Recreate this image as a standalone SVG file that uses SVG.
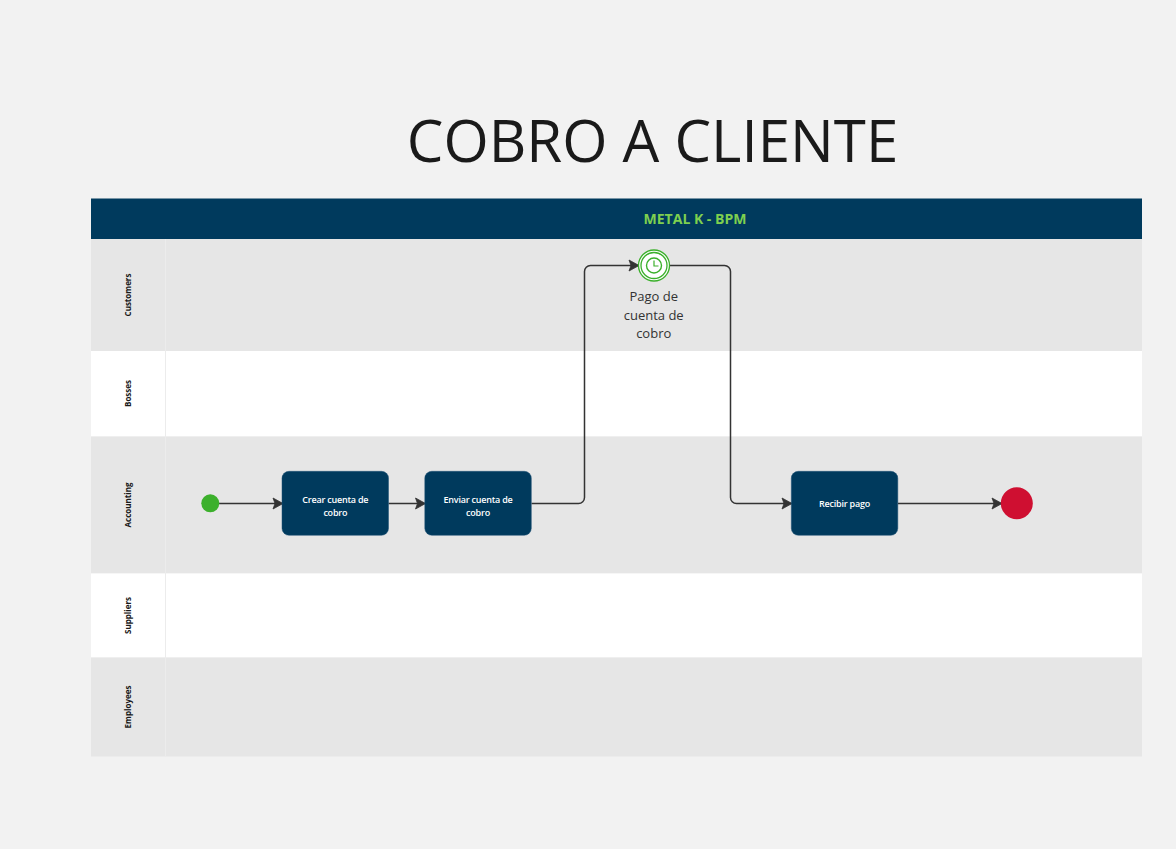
<svg xmlns="http://www.w3.org/2000/svg" width="1176" height="849" viewBox="0 0 1176 849">
<style>
text{font-family:"Open Sans","Noto Sans","Liberation Sans",sans-serif}
.lane{fill:#e6e6e6}.white{fill:#fff}
.div{stroke:#ececec;stroke-width:1;fill:none}
.lbl{font-size:8px;font-weight:700;fill:#1a1a1a;text-anchor:middle}
.task{fill:#003a5d;stroke:#1f5277;stroke-width:.5}
.tt{font-size:9px;font-weight:600;fill:#fff;text-anchor:middle;letter-spacing:-.22px}
.conn{fill:none;stroke:#333;stroke-width:1.5}
.cap{font-size:13px;fill:#333;text-anchor:middle}
</style>
<defs><marker id="arr" markerUnits="userSpaceOnUse" markerWidth="14" markerHeight="14" refX="11" refY="7" orient="auto"><path d="M1 1.500L11 7L1 12.500L3 7Z" fill="#333" stroke="#333" stroke-width=".8" stroke-linejoin="round"/></marker></defs>
<rect width="1176" height="849" fill="#f2f2f2"/>
<text x="652.500" y="162" font-size="58.200" fill="#1a1a1a" text-anchor="middle">COBRO A CLIENTE</text>
<g id="pool">
<rect x="91" y="198.500" width="1051" height="40.500" fill="#003a5d"/>
<text x="695" y="224" font-size="14px" font-weight="700" fill="#7ed04f" text-anchor="middle">METAL K - BPM</text>
</g>
<g id="lane-customers"><rect class="lane" x="91" y="239" width="1051" height="112"/><text class="lbl" transform="translate(131 295) rotate(-90)">Customers</text></g>
<g id="lane-bosses"><rect class="white" x="91" y="351" width="1051" height="85.500"/><text class="lbl" transform="translate(131 393.500) rotate(-90)">Bosses</text></g>
<g id="lane-accounting"><rect class="lane" x="91" y="436.500" width="1051" height="137"/><text class="lbl" transform="translate(131 505) rotate(-90)">Accounting</text></g>
<g id="lane-suppliers"><rect class="white" x="91" y="573.500" width="1051" height="84"/><text class="lbl" transform="translate(131 615.500) rotate(-90)">Suppliers</text></g>
<g id="lane-employees"><rect class="lane" x="91" y="657.500" width="1051" height="99"/><text class="lbl" transform="translate(131 707) rotate(-90)">Employees</text></g>
<path class="div" d="M165.500 239V756.500"/>
<g id="connectors">
<path class="conn" marker-end="url(#arr)" d="M218 503.500H283"/>
<path class="conn" marker-end="url(#arr)" d="M388.500 503.500H425.500"/>
<path class="conn" marker-end="url(#arr)" d="M531.500 503.500H578.500a6 6 0 0 0 6-6V271.500a6 6 0 0 1 6-6H639"/>
<path class="conn" marker-end="url(#arr)" d="M670 265.500H724.500a6 6 0 0 1 6 6V497.500a6 6 0 0 0 6 6H792"/>
<path class="conn" marker-end="url(#arr)" d="M898 503.500H1002"/>
</g>
<g id="start"><circle cx="210.300" cy="503.300" r="9" fill="#3cb02c"/></g>
<g id="task-crear"><rect class="task" x="282" y="471.300" width="106.500" height="64" rx="7"/><text class="tt" x="335.300" y="503">Crear cuenta de</text><text class="tt" x="335.300" y="516">cobro</text></g>
<g id="task-enviar"><rect class="task" x="424.800" y="471.300" width="106.500" height="64" rx="7"/><text class="tt" x="478" y="503">Enviar cuenta de</text><text class="tt" x="478" y="516">cobro</text></g>
<g id="timer">
<circle cx="654" cy="265.500" r="15.500" fill="#fff" stroke="#3cb02c" stroke-width="1.300"/>
<circle cx="654" cy="265.500" r="13" fill="#fff" stroke="#3cb02c" stroke-width="1.300"/>
<circle cx="654" cy="265.500" r="7.500" fill="none" stroke="#3cb02c" stroke-width="1.400"/>
<path d="M654 260.500V266H658.500" fill="none" stroke="#3cb02c" stroke-width="1.200"/>
<text class="cap" x="653.700" y="301">Pago de</text>
<text class="cap" x="653.700" y="320">cuenta de</text>
<text class="cap" x="653.700" y="338">cobro</text>
</g>
<g id="task-recibir"><rect class="task" x="791.300" y="471.300" width="106.500" height="64" rx="7"/><text class="tt" x="844.500" y="507">Recibir pago</text></g>
<g id="end"><circle cx="1016.800" cy="503.300" r="16" fill="#cf0f31"/></g>
</svg>
